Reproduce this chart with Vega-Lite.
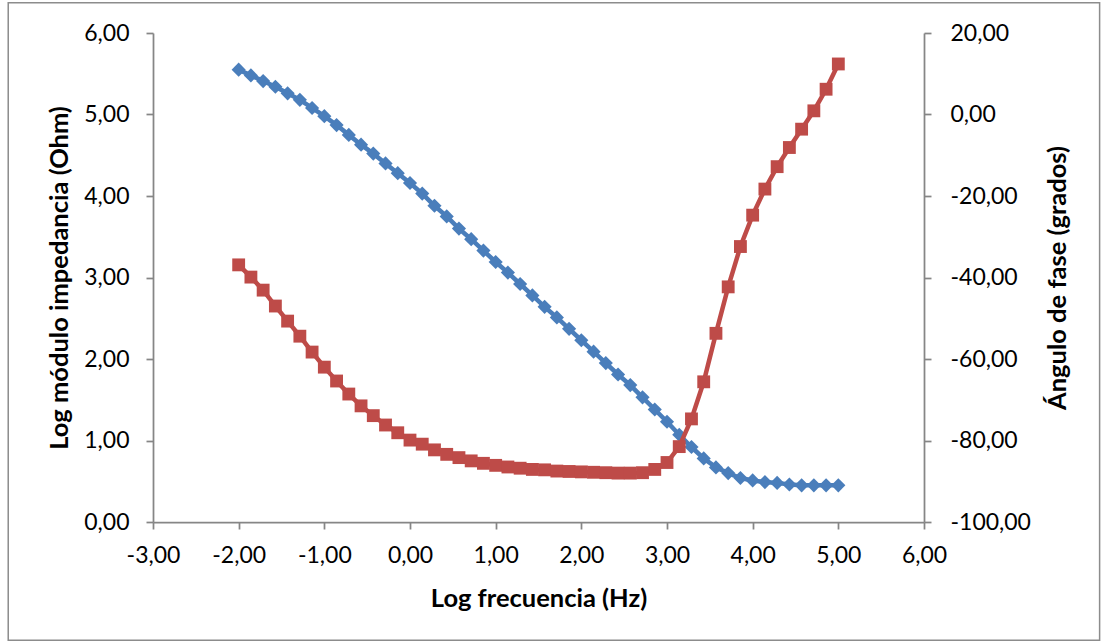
{
  "$schema": "https://vega.github.io/schema/vega-lite/v6.json",
  "width": 771,
  "height": 489,
  "autosize": {"type": "none"},
  "padding": {"left": 153, "top": 33, "right": 183, "bottom": 121},
  "background": "white",
  "config": {
    "view": {"stroke": null},
    "font": "Lato",
    "axis": {
      "domainColor": "#868686",
      "tickColor": "#868686",
      "domainWidth": 1.75,
      "tickWidth": 1.75,
      "labelColor": "black",
      "titleColor": "black",
      "labelFont": "Lato",
      "titleFont": "Lato",
      "labelFontSize": 23,
      "titleFontSize": 25.5,
      "titleFontWeight": "bold",
      "grid": false,
      "labelOverlap": false,
      "labelFlush": false,
      "tickSize": 7
    }
  },
  "data": {
    "values": [
      {"x": -2.0, "z": 5.55, "phase": -36.9},
      {"x": -1.8571, "z": 5.48, "phase": -39.9},
      {"x": -1.7143, "z": 5.41, "phase": -43.1},
      {"x": -1.5714, "z": 5.34, "phase": -47.0},
      {"x": -1.4286, "z": 5.26, "phase": -50.7},
      {"x": -1.2857, "z": 5.18, "phase": -54.4},
      {"x": -1.1429, "z": 5.08, "phase": -58.3},
      {"x": -1.0, "z": 4.98, "phase": -62.0},
      {"x": -0.8571, "z": 4.87, "phase": -65.4},
      {"x": -0.7143, "z": 4.75, "phase": -68.6},
      {"x": -0.5714, "z": 4.63, "phase": -71.5},
      {"x": -0.4286, "z": 4.52, "phase": -73.9},
      {"x": -0.2857, "z": 4.40, "phase": -76.2},
      {"x": -0.1429, "z": 4.28, "phase": -78.1},
      {"x": 0.0, "z": 4.16, "phase": -79.9},
      {"x": 0.1429, "z": 4.03, "phase": -80.9},
      {"x": 0.2857, "z": 3.88, "phase": -82.3},
      {"x": 0.4286, "z": 3.75, "phase": -83.4},
      {"x": 0.5714, "z": 3.60, "phase": -84.2},
      {"x": 0.7143, "z": 3.47, "phase": -85.0},
      {"x": 0.8571, "z": 3.33, "phase": -85.6},
      {"x": 1.0, "z": 3.19, "phase": -86.1},
      {"x": 1.1429, "z": 3.06, "phase": -86.5},
      {"x": 1.2857, "z": 2.92, "phase": -86.8},
      {"x": 1.4286, "z": 2.78, "phase": -87.1},
      {"x": 1.5714, "z": 2.64, "phase": -87.2},
      {"x": 1.7143, "z": 2.51, "phase": -87.5},
      {"x": 1.8571, "z": 2.37, "phase": -87.6},
      {"x": 2.0, "z": 2.23, "phase": -87.7},
      {"x": 2.1429, "z": 2.09, "phase": -87.8},
      {"x": 2.2857, "z": 1.95, "phase": -87.9},
      {"x": 2.4286, "z": 1.81, "phase": -88.0},
      {"x": 2.5714, "z": 1.68, "phase": -88.0},
      {"x": 2.7143, "z": 1.53, "phase": -87.9},
      {"x": 2.8571, "z": 1.38, "phase": -87.1},
      {"x": 3.0, "z": 1.23, "phase": -85.4},
      {"x": 3.1429, "z": 1.07, "phase": -81.5},
      {"x": 3.2857, "z": 0.92, "phase": -74.7},
      {"x": 3.4286, "z": 0.78, "phase": -65.6},
      {"x": 3.5714, "z": 0.67, "phase": -53.7},
      {"x": 3.7143, "z": 0.60, "phase": -42.3},
      {"x": 3.8571, "z": 0.54, "phase": -32.4},
      {"x": 4.0, "z": 0.51, "phase": -24.7},
      {"x": 4.1429, "z": 0.49, "phase": -18.3},
      {"x": 4.2857, "z": 0.48, "phase": -12.8},
      {"x": 4.4286, "z": 0.46, "phase": -8.1},
      {"x": 4.5714, "z": 0.45, "phase": -3.6},
      {"x": 4.7143, "z": 0.45, "phase": 0.9},
      {"x": 4.8571, "z": 0.45, "phase": 6.2},
      {"x": 5.0, "z": 0.45, "phase": 12.4}
    ]
  },
  "layer": [
    {
      "data": {"values": [{}]},
      "mark": {"type": "rect", "fill": "white", "fillOpacity": 0, "stroke": "#8c8c8c", "strokeWidth": 1.5, "clip": false},
      "encoding": {
        "x": {"datum": -4.69, "type": "quantitative", "scale": {"domain": [-3, 6], "nice": false, "zero": false},
          "axis": {"values": [-3, -2, -1, 0, 1, 2, 3, 4, 5, 6], "labelExpr": "(datum.value < 0 ? '-' : '') + replace(format(abs(datum.value), '.2f'), '.', ',')", "title": "Log frecuencia (Hz)", "labelPadding": 15, "titleY": 76, "titleBaseline": "middle"}},
        "x2": {"datum": 8.05},
        "y": {"datum": 6.37, "type": "quantitative", "scale": {"domain": [0, 6], "nice": false}, "axis": null},
        "y2": {"datum": -1.45}
      }
    },
    {
      "mark": {"type": "line", "color": "#4a7ebb", "strokeWidth": 4.5,
        "point": {"shape": "diamond", "size": 200, "filled": true, "color": "#4a7ebb", "opacity": 1}},
      "encoding": {
        "x": {"field": "x", "type": "quantitative", "scale": {"domain": [-3, 6], "nice": false, "zero": false},
          "axis": {"values": [-3, -2, -1, 0, 1, 2, 3, 4, 5, 6], "labelExpr": "(datum.value < 0 ? '-' : '') + replace(format(abs(datum.value), '.2f'), '.', ',')", "title": "Log frecuencia (Hz)", "labelPadding": 15, "titleY": 76, "titleBaseline": "middle"}},
        "y": {"field": "z", "type": "quantitative", "scale": {"domain": [0, 6], "nice": false},
          "axis": {"orient": "left", "values": [0, 1, 2, 3, 4, 5, 6], "labelExpr": "(datum.value < 0 ? '-' : '') + replace(format(abs(datum.value), '.2f'), '.', ',')", "title": "Log módulo impedancia (Ohm)", "labelPadding": 17, "titleAngle": 270, "titleX": -94, "titleY": 244.5, "titleBaseline": "middle", "titleAlign": "center"}}
      }
    },
    {
      "mark": {"type": "line", "color": "#be4b48", "strokeWidth": 4.5,
        "point": {"shape": "square", "size": 165, "filled": true, "color": "#be4b48", "opacity": 1}},
      "encoding": {
        "x": {"field": "x", "type": "quantitative", "scale": {"domain": [-3, 6], "nice": false, "zero": false},
          "axis": {"values": [-3, -2, -1, 0, 1, 2, 3, 4, 5, 6], "labelExpr": "(datum.value < 0 ? '-' : '') + replace(format(abs(datum.value), '.2f'), '.', ',')", "title": "Log frecuencia (Hz)", "labelPadding": 15, "titleY": 76, "titleBaseline": "middle"}},
        "y": {"field": "phase", "type": "quantitative", "scale": {"domain": [-100, 20], "nice": false, "zero": false},
          "axis": {"orient": "right", "values": [-100, -80, -60, -40, -20, 0, 20], "labelExpr": "(datum.value < 0 ? '-' : '') + replace(format(abs(datum.value), '.2f'), '.', ',')", "title": "Ángulo de fase (grados)", "labelPadding": 19, "titleAngle": 270, "titleX": 133, "titleY": 244.5, "titleBaseline": "middle", "titleAlign": "center"}}
      }
    }
  ],
  "resolve": {"scale": {"y": "independent"}}
}
